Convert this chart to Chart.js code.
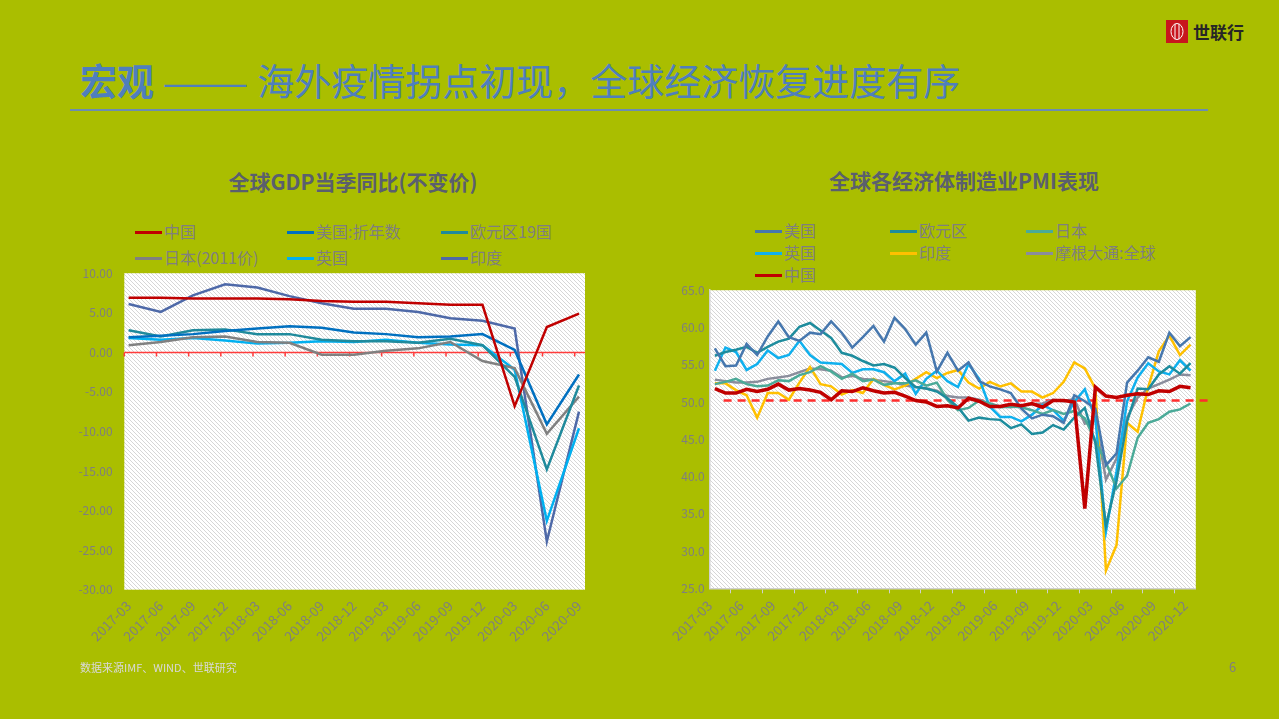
<!DOCTYPE html>
<html>
<head>
<meta charset="utf-8">
<script src="https://cdn.jsdelivr.net/npm/chart.js@4.4.1/dist/chart.umd.min.js"></script>
<style>
html,body{margin:0;padding:0;}
body{width:1279px;height:719px;background:#AABE00;position:relative;overflow:hidden;
  font-family:"Noto Sans CJK SC","Noto Sans",sans-serif;}
.abs{position:absolute;}
#hdr{left:80px;top:54px;font-size:37px;line-height:52px;color:#4F7FBD;white-space:nowrap;}
#hdr b{font-weight:700;}
#hdr .dash{display:inline-block;transform:scaleX(1.4);transform-origin:0 50%;margin-right:33px;}
#rule{left:70px;top:109px;width:1138px;height:2px;background:#6B8DB2;}
#logo{left:1166px;top:20px;width:22px;height:23px;background:#C8161D;}
#logoTxt{left:1193px;top:20px;font-size:17px;line-height:24px;font-weight:700;color:#262626;}
.ttl{font-size:21px;line-height:28px;font-weight:700;color:#5A5F6E;text-align:center;width:420px;white-space:nowrap;}
.lg{position:absolute;height:20px;line-height:20px;font-size:16px;color:#7F7F7F;white-space:nowrap;}
.lg .sw{display:inline-block;width:27px;height:3px;vertical-align:middle;margin-right:2px;position:relative;top:-1px;}
#foot{left:80px;top:659px;font-size:11px;line-height:16px;color:#D9D9D9;}
#pg{left:1229px;top:658px;font-size:13px;line-height:18px;color:#7F7F7F;}
</style>
</head>
<body>
<div id="hdr" class="abs"><b>宏观</b> <span class="dash">——</span>海外疫情拐点初现，全球经济恢复进度有序</div>
<div id="rule" class="abs"></div>
<div id="logo" class="abs"><svg width="22" height="23"><ellipse cx="11" cy="11.5" rx="6" ry="8" fill="none" stroke="#fff" stroke-width="1"/><line x1="9" y1="4" x2="9" y2="19" stroke="#fff"/><line x1="13" y1="4" x2="13" y2="19" stroke="#fff"/></svg></div>
<div id="logoTxt" class="abs">世联行</div>

<div class="abs ttl" style="left:143px;top:167px;">全球GDP当季同比(不变价)</div>
<div class="abs ttl" style="left:754px;top:166px;">全球各经济体制造业PMI表现</div>

<div id="lg1" class="abs" style="left:0;top:0;"></div>
<div id="lg2" class="abs" style="left:0;top:0;"></div>

<canvas id="c1" class="abs" width="540" height="413" style="left:60px;top:249.5px;"></canvas>
<canvas id="c2" class="abs" width="600" height="382" style="left:640px;top:278.1px;"></canvas>

<div id="foot" class="abs">数据来源IMF、WIND、世联研究</div>
<div id="pg" class="abs">6</div>

<script>
// ---------------- Left chart: GDP YoY (quarterly) ----------------
const gdpLabels = ['2017-03','2017-06','2017-09','2017-12','2018-03','2018-06','2018-09','2018-12',
  '2019-03','2019-06','2019-09','2019-12','2020-03','2020-06','2020-09'];
const gdpChina    = [6.9, 6.9, 6.8, 6.8, 6.8, 6.7, 6.5, 6.4, 6.4, 6.2, 6.0, 6.0, -6.8, 3.2, 4.9];
const gdpUS       = [1.9, 2.1, 2.3, 2.7, 3.0, 3.3, 3.1, 2.5, 2.3, 1.9, 2.0, 2.3, 0.3, -9.1, -2.8];
const gdpEurozone = [2.8, 2.0, 2.8, 2.9, 2.3, 2.3, 1.6, 1.4, 1.4, 1.2, 1.7, 0.9, -3.1, -14.8, -4.2];
const gdpJapan    = [0.9, 1.3, 1.9, 2.0, 1.3, 1.2, -0.3, -0.3, 0.2, 0.5, 1.3, -1.1, -2.0, -10.3, -5.6];
const gdpUK       = [1.8, 1.6, 1.8, 1.5, 1.1, 1.2, 1.4, 1.3, 1.6, 1.2, 1.0, 0.9, -2.2, -21.3, -9.6];
const gdpIndia    = [6.1, 5.1, 7.2, 8.6, 8.2, 7.1, 6.2, 5.5, 5.5, 5.1, 4.3, 4.0, 3.0, -23.9, -7.5];
const gdpYTicks   = [10, 5, 0, -5, -10, -15, -20, -25, -30];

// ---------------- Right chart: manufacturing PMI (monthly) ----------------
const pmiLabels = ['2017-03','2017-04','2017-05','2017-06','2017-07','2017-08','2017-09','2017-10','2017-11','2017-12',
  '2018-01','2018-02','2018-03','2018-04','2018-05','2018-06','2018-07','2018-08','2018-09','2018-10','2018-11','2018-12',
  '2019-01','2019-02','2019-03','2019-04','2019-05','2019-06','2019-07','2019-08','2019-09','2019-10','2019-11','2019-12',
  '2020-01','2020-02','2020-03','2020-04','2020-05','2020-06','2020-07','2020-08','2020-09','2020-10','2020-11','2020-12'];
const pmiUS = [57.2,54.8,54.9,57.8,56.3,58.8,60.8,58.7,58.2,59.3,
  59.1,60.8,59.3,57.3,58.7,60.2,58.1,61.3,59.8,57.7,59.3,54.1,
  56.6,54.2,55.3,52.8,52.1,51.7,51.2,49.1,47.8,48.3,48.1,47.2,
  50.9,50.1,49.1,41.5,43.1,52.6,54.2,56.0,55.4,59.3,57.5,58.7];
const pmiEurozone = [56.2,56.7,57.0,57.4,56.6,57.4,58.1,58.5,60.1,60.6,
  59.6,58.6,56.6,56.2,55.5,54.9,55.1,54.6,53.2,52.0,51.8,51.4,
  50.5,49.3,47.5,47.9,47.7,47.6,46.5,47.0,45.7,45.9,46.9,46.3,
  47.9,49.2,44.5,33.4,39.4,47.4,51.8,51.7,53.7,54.8,53.8,55.2];
const pmiJapan = [52.4,52.7,53.1,52.4,52.1,52.2,52.9,52.8,53.6,54.0,
  54.8,54.1,53.1,53.8,52.8,53.0,52.3,52.5,52.5,52.9,52.2,52.6,
  50.3,48.9,49.2,50.2,49.8,49.3,49.4,49.3,48.9,48.4,48.9,48.4,
  48.8,47.8,44.8,41.9,38.4,40.1,45.2,47.2,47.7,48.7,49.0,49.8];
const pmiUK = [54.2,57.3,56.7,54.3,55.1,56.9,55.9,56.3,58.2,56.3,
  55.3,55.2,55.1,53.9,54.4,54.4,54.0,52.8,53.8,51.1,53.1,54.2,
  52.8,52.0,55.1,53.1,49.4,48.0,48.0,47.4,48.3,49.6,48.9,47.5,
  50.0,51.7,47.8,32.6,40.7,50.1,53.3,55.2,54.1,53.7,55.6,54.2];
const pmiIndia = [52.5,52.5,51.6,50.9,47.9,51.2,51.2,50.3,52.6,54.7,
  52.4,52.1,51.0,51.6,51.2,53.1,52.3,51.7,52.2,53.1,54.0,53.2,
  53.9,54.3,52.6,51.8,52.7,52.1,52.5,51.4,51.4,50.6,51.2,52.7,
  55.3,54.5,51.8,27.4,30.8,47.2,46.0,52.0,56.8,58.9,56.3,57.7];
const pmiGlobal = [53.0,52.8,52.6,52.6,52.7,53.1,53.3,53.5,54.0,54.5,
  54.4,54.2,53.3,53.5,53.1,53.0,52.8,52.6,52.2,52.0,51.8,51.5,
  50.8,50.6,50.6,50.3,49.8,49.4,49.3,49.5,49.7,49.8,50.3,50.1,
  50.4,47.1,47.6,39.6,42.4,47.9,50.6,51.8,52.4,53.0,53.7,53.6];
const pmiChina = [51.8,51.2,51.2,51.7,51.4,51.7,52.4,51.6,51.8,51.6,
  51.3,50.3,51.5,51.4,51.9,51.5,51.2,51.3,50.8,50.2,50.0,49.4,
  49.5,49.2,50.5,50.1,49.4,49.4,49.7,49.5,49.8,49.3,50.2,50.2,
  50.0,35.7,52.0,50.8,50.6,50.9,51.1,51.0,51.5,51.4,52.1,51.9];
const pmiThreshold = 50;

// ---------------- helpers ----------------
const TICK_COLOR = '#7F7F7F';
const FONT = '"Noto Sans CJK SC","Noto Sans",sans-serif';
function hatchPattern(ctx){
  const t = document.createElement('canvas'); t.width = 4; t.height = 4;
  const g = t.getContext('2d');
  g.fillStyle = '#FFFFFF'; g.fillRect(0,0,4,4);
  g.fillStyle = '#D6D6D6';
  for (let i = 0; i < 4; i++) g.fillRect(i, i, 1, 1);
  return ctx.createPattern(t, 'repeat');
}
const plotBg = {
  id: 'plotBg',
  beforeDraw(chart, args, o){
    const {ctx, chartArea:a} = chart;
    ctx.save();
    ctx.fillStyle = hatchPattern(ctx);
    ctx.fillRect(a.left - (o.l||0), a.top, a.width + (o.l||0) + (o.r||0), a.height);
    ctx.restore();
  }
};
const zeroLine = {
  id: 'zeroLine',
  beforeDatasetsDraw(chart, args, o){
    if (!o.on) return;
    const {ctx, chartArea:a, scales:{x, y}} = chart;
    const yy = Math.round(y.getPixelForValue(0)) + 0.5;
    ctx.save();
    ctx.strokeStyle = '#FF3B3B'; ctx.lineWidth = 1.5;
    ctx.beginPath(); ctx.moveTo(a.left - 4.3, yy); ctx.lineTo(a.right + 6, yy); ctx.stroke();
    for (let i = 0; i < chart.data.labels.length; i++){
      const xx = x.getPixelForValue(i) - 4.3;
      ctx.beginPath(); ctx.moveTo(xx, yy); ctx.lineTo(xx, yy + 4); ctx.stroke();
    }
    ctx.restore();
  }
};
const refLine = {
  id: 'refLine',
  beforeDatasetsDraw(chart, args, o){
    if (!o.on) return;
    const {ctx, chartArea:a, scales:{y}} = chart;
    const yy = y.getPixelForValue(o.value) - 1.5;
    ctx.save();
    ctx.strokeStyle = '#FF2D2D'; ctx.lineWidth = 2.5; ctx.setLineDash([8,6]);
    ctx.beginPath(); ctx.moveTo(a.left + 14, yy); ctx.lineTo(a.right + 13, yy); ctx.stroke();
    ctx.restore();
  }
};
function htmlLegend(chart, el, cols, rows){
  chart.data.datasets.forEach((ds, i) => {
    const d = document.createElement('div');
    d.className = 'lg';
    d.style.left = cols[i % 3] + 'px';
    d.style.top = (rows[Math.floor(i / 3)] - 10) + 'px';
    d.innerHTML = '<span class="sw" style="background:' + ds.borderColor + '"></span>' + ds.label;
    el.appendChild(d);
  });
}
function line(label, data, color, width, order){
  return {label, data, borderColor: color, backgroundColor: color, borderWidth: width,
    pointRadius: 0, pointHoverRadius: 0, tension: 0, fill: false, order};
}

// ---------------- Chart 1 ----------------
const c1 = new Chart(document.getElementById('c1'), {
  type: 'line',
  data: {
    labels: gdpLabels,
    datasets: [
      line('中国', gdpChina, '#C00000', 2.5, 0),
      line('美国:折年数', gdpUS, '#0070C0', 2.5, 1),
      line('欧元区19国', gdpEurozone, '#1F8A9C', 2.5, 2),
      line('日本(2011价)', gdpJapan, '#808080', 2.5, 3),
      line('英国', gdpUK, '#00B0F0', 2.5, 4),
      line('印度', gdpIndia, '#4E69A8', 2.5, 5)
    ]
  },
  options: {
    responsive: false, animation: false, events: [],
    layout: {padding: {top: 0, right: 21, left: 0, bottom: 0}},
    plugins: {legend: {display: false}, tooltip: {enabled: false},
      plotBg: {l: 4.3, r: 6}, zeroLine: {on: true}, refLine: {on: false}},
    scales: {
      x: {
        type: 'category', offset: false,
        grid: {display: false, drawTicks: false}, border: {display: false},
        ticks: {autoSkip: false, minRotation: 45, maxRotation: 45, padding: 8,
          color: TICK_COLOR, font: {size: 13.5, family: FONT}},
        afterFit(s){ s.height = 73.3; }
      },
      y: {
        min: -30, max: 10,
        afterBuildTicks(s){ s.ticks = gdpYTicks.map(v => ({value: v})); },
        grid: {display: false, drawTicks: false}, border: {display: false},
        ticks: {padding: 16, color: TICK_COLOR, callback: v => v.toFixed(2),
          font: {size: 12, family: FONT}},
        afterFit(s){ s.width = 68.6; }
      }
    }
  },
  plugins: [plotBg, zeroLine, refLine]
});
htmlLegend(c1, document.getElementById('lg1'), [135, 287, 441], [231, 257]);

// ---------------- Chart 2 ----------------
const c2 = new Chart(document.getElementById('c2'), {
  type: 'line',
  data: {
    labels: pmiLabels,
    datasets: [
      line('美国', pmiUS, '#4677AE', 2.5, 1),
      line('欧元区', pmiEurozone, '#1D8C9D', 2.5, 2),
      line('日本', pmiJapan, '#4BAA98', 2.5, 3),
      line('英国', pmiUK, '#0FB0EE', 2.5, 4),
      line('印度', pmiIndia, '#FFC000', 2.5, 5),
      line('摩根大通:全球', pmiGlobal, '#8A8D9C', 2.5, 6),
      line('中国', pmiChina, '#C00000', 3.5, 0)
    ]
  },
  options: {
    responsive: false, animation: false, events: [],
    layout: {padding: {top: 0, right: 44.2, left: 0, bottom: 0}},
    plugins: {legend: {display: false}, tooltip: {enabled: false},
      plotBg: {l: 0, r: 0}, zeroLine: {on: false}, refLine: {on: true, value: pmiThreshold}},
    scales: {
      x: {
        type: 'category', offset: true,
        grid: {display: true, drawOnChartArea: false, drawTicks: true, tickLength: 5, color: '#D0D0D0', offset: true},
        border: {display: true, color: '#D0D0D0', width: 1.5},
        ticks: {autoSkip: false, minRotation: 45, maxRotation: 45, padding: 4, labelOffset: -5.3,
          color: TICK_COLOR, font: {size: 13.5, family: FONT},
          callback: function(v){ const l = this.getLabelForValue(v); return /-(03|06|09|12)$/.test(l) ? l : null; }},
        afterFit(s){ s.height = 71.7; }
      },
      y: {
        min: 25, max: 65,
        ticks: {stepSize: 5, padding: 5, color: TICK_COLOR, callback: v => v.toFixed(1),
          font: {size: 12, family: FONT}},
        grid: {display: false, drawTicks: false},
        border: {display: true, color: '#D0D0D0', width: 1.5},
        afterFit(s){ s.width = 69.6; }
      }
    }
  },
  plugins: [plotBg, zeroLine, refLine]
});
htmlLegend(c2, document.getElementById('lg2'), [755, 890, 1026], [230, 252, 274]);
</script>
</body>
</html>
